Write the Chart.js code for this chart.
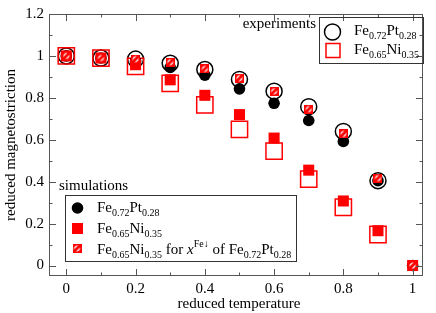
<!DOCTYPE html>
<html>
<head>
<meta charset="utf-8">
<script src="https://cdn.jsdelivr.net/npm/chart.js@4.4.0/dist/chart.umd.min.js"></script>
<style>
  body { margin: 0; background: #fff; }
  canvas { display: block; }
</style>
</head>
<body>
<canvas id="magChart" width="436" height="313"></canvas>
<script>
// datos
const temps = [0, 0.1, 0.2, 0.3, 0.4, 0.5, 0.6, 0.7, 0.8, 0.9, 1.0];
const expFePt = [1.0, 0.99, 0.985, 0.965, 0.935, 0.888, 0.832, 0.758, 0.64, 0.405];
const expFeNi = [1.0, 0.99, 0.95, 0.869, 0.766, 0.65, 0.546, 0.412, 0.278, 0.148];
const simFePt = [1.0, 0.99, 0.975, 0.945, 0.908, 0.843, 0.774, 0.692, 0.592, 0.405, 0];
const simFeNi = [1.0, 0.99, 0.958, 0.886, 0.812, 0.72, 0.608, 0.455, 0.308, 0.166, 0];
const simFeNiX = [1.0, 0.99, 0.985, 0.97, 0.938, 0.894, 0.831, 0.746, 0.628, 0.417, 0];

const xTickVals = [0, 0.2, 0.4, 0.6, 0.8, 1.0];
const xTickLabels = ['0', '0.2', '0.4', '0.6', '0.8', '1'];
const xMinorVals = [0.1, 0.3, 0.5, 0.7, 0.9];
const yTickVals = [0, 0.2, 0.4, 0.6, 0.8, 1.0, 1.2];
const yTickLabels = ['0', '0.2', '0.4', '0.6', '0.8', '1', '1.2'];
const yMinorVals = [0.1, 0.3, 0.5, 0.7, 0.9, 1.1];

const FONT = "'Liberation Serif', 'DejaVu Serif', serif";
const RED = '#ff0000';
const FRAME = '#555';

function toPoints(vals) {
  return vals.map((v, i) => ({ x: temps[i], y: v }));
}

// marcador rayado (cuadrado rojo con lineas blancas)
const hatch = document.createElement('canvas');
hatch.width = 9;
hatch.height = 9;
(function () {
  const c = hatch.getContext('2d');
  c.fillStyle = RED;
  c.fillRect(0, 0, 9, 9);
  c.save();
  c.beginPath();
  c.rect(1.5, 1.5, 6, 6);
  c.clip();
  c.strokeStyle = '#fff';
  c.lineWidth = 1.3;
  c.beginPath();
  c.moveTo(0, 6); c.lineTo(6, 0);
  c.moveTo(3, 9); c.lineTo(9, 3);
  c.stroke();
  c.restore();
})();

// texto con subindices / superindices
function drawChem(ctx, x, y, parts, size) {
  size = size || 15;
  ctx.textAlign = 'left';
  ctx.textBaseline = 'alphabetic';
  parts.forEach(p => {
    const [txt, kind] = p;
    if (kind === 'sub') {
      ctx.font = `10px ${FONT}`;
      ctx.fillText(txt, x, y + 4);
    } else if (kind === 'sup') {
      ctx.font = `10px ${FONT}`;
      ctx.fillText(txt, x, y - 7);
    } else if (kind === 'it') {
      ctx.font = `italic ${size}px ${FONT}`;
      ctx.fillText(txt, x, y);
    } else {
      ctx.font = `${size}px ${FONT}`;
      ctx.fillText(txt, x, y);
    }
    x += ctx.measureText(txt).width;
  });
}

const fePt = [['Fe'], ['0.72', 'sub'], ['Pt'], ['0.28', 'sub']];
const feNi = [['Fe'], ['0.65', 'sub'], ['Ni'], ['0.35', 'sub']];

const framePlugin = {
  id: 'framePlugin',
  afterDatasetsDraw(chart) {
    const ctx = chart.ctx;
    const { left, right, top, bottom } = chart.chartArea;
    const xs = chart.scales.x, ys = chart.scales.y;
    ctx.save();
    ctx.strokeStyle = FRAME;
    ctx.lineWidth = 1;
    ctx.strokeRect(left + 0.5, top + 0.5, right - left - 1, bottom - top - 1);
    ctx.beginPath();
    const tick = (vals, len) => {
      vals.forEach(v => {
        const px = Math.round(xs.getPixelForValue(v)) + 0.5;
        ctx.moveTo(px, bottom); ctx.lineTo(px, bottom - len);
        ctx.moveTo(px, top); ctx.lineTo(px, top + len);
      });
    };
    const tickY = (vals, len) => {
      vals.forEach(v => {
        const py = Math.round(ys.getPixelForValue(v)) + 0.5;
        ctx.moveTo(left, py); ctx.lineTo(left + len, py);
        ctx.moveTo(right, py); ctx.lineTo(right - len, py);
      });
    };
    tick(xTickVals, 7); tick(xMinorVals, 3.5);
    tickY(yTickVals, 7); tickY(yMinorVals, 3.5);
    ctx.stroke();

    // titulos de ejes
    ctx.fillStyle = '#000';
    ctx.font = `15px ${FONT}`;
    ctx.textAlign = 'center';
    ctx.textBaseline = 'alphabetic';
    ctx.fillText('reduced temperature', (left + right) / 2 + 3, 307.5);
    ctx.save();
    ctx.translate(15, (top + bottom) / 2);
    ctx.rotate(-Math.PI / 2);
    ctx.fillText('reduced magnetostriction', 0, 0);
    ctx.restore();

    // leyenda de experimentos
    ctx.strokeStyle = '#333';
    ctx.strokeRect(319.5, 17.5, 104, 46);
    ctx.font = `15px ${FONT}`;
    ctx.textAlign = 'right';
    ctx.fillText('experiments', 316, 28);
    ctx.lineWidth = 1.5;
    ctx.strokeStyle = '#000';
    ctx.beginPath();
    ctx.arc(332.5, 32, 8, 0, Math.PI * 2);
    ctx.stroke();
    ctx.strokeStyle = RED;
    ctx.strokeRect(326, 43.5, 14, 14);
    drawChem(ctx, 354, 34.5, fePt);
    drawChem(ctx, 354, 54, feNi);

    // leyenda de simulaciones
    ctx.lineWidth = 1;
    ctx.strokeStyle = '#333';
    ctx.strokeRect(65.5, 195.5, 231, 66);
    ctx.font = `15px ${FONT}`;
    ctx.textAlign = 'left';
    ctx.fillText('simulations', 59, 190);
    ctx.fillStyle = '#000';
    ctx.beginPath();
    ctx.arc(77.5, 208, 5.8, 0, Math.PI * 2);
    ctx.fill();
    ctx.fillStyle = RED;
    ctx.fillRect(72, 223, 11, 11);
    ctx.drawImage(hatch, 72.5, 244);
    ctx.fillStyle = '#000';
    drawChem(ctx, 97, 212, fePt);
    drawChem(ctx, 97, 233, feNi);
    drawChem(ctx, 97, 253.5, feNi.concat([[' for '], ['x', 'it'], ['Fe\u2193', 'sup'], [' of '], ...fePt]));
    ctx.restore();
  }
};

const ctx = document.getElementById('magChart').getContext('2d');
const magChart = new Chart(ctx, {
  type: 'scatter',
  data: {
    datasets: [
      {
        label: 'Fe0.65Ni0.35 for xFe of Fe0.72Pt0.28',
        data: toPoints(simFeNiX),
        pointStyle: hatch,
        order: 0
      },
      {
        label: 'sim Fe0.65Ni0.35',
        data: toPoints(simFeNi),
        pointStyle: 'rect',
        pointRadius: 7.8,
        backgroundColor: RED,
        borderColor: RED,
        borderWidth: 0,
        order: 1
      },
      {
        label: 'sim Fe0.72Pt0.28',
        data: toPoints(simFePt),
        pointStyle: 'circle',
        pointRadius: 5.8,
        backgroundColor: '#000',
        borderColor: '#000',
        borderWidth: 0,
        order: 2
      },
      {
        label: 'exp Fe0.65Ni0.35',
        data: toPoints(expFeNi),
        pointStyle: 'rect',
        pointRadius: 11.5,
        backgroundColor: 'rgba(0,0,0,0)',
        borderColor: RED,
        borderWidth: 1.5,
        order: 3
      },
      {
        label: 'exp Fe0.72Pt0.28',
        data: toPoints(expFePt),
        pointStyle: 'circle',
        pointRadius: 8,
        backgroundColor: 'rgba(0,0,0,0)',
        borderColor: '#000',
        borderWidth: 1.5,
        order: 4
      }
    ]
  },
  options: {
    responsive: false,
    animation: false,
    layout: { padding: { top: 6, right: 7, left: 0, bottom: 0 } },
    plugins: {
      legend: { display: false },
      tooltip: { enabled: false }
    },
    scales: {
      x: {
        type: 'linear',
        min: -0.05,
        max: 1.03,
        grid: { display: false, drawTicks: false },
        border: { display: false },
        ticks: {
          color: '#000',
          font: { family: FONT, size: 15 },
          padding: 4,
          maxRotation: 0,
          callback: (v, i) => xTickLabels[i]
        },
        afterBuildTicks: s => { s.ticks = xTickVals.map(v => ({ value: v })); },
        afterFit: s => { s.height = 37; }
      },
      y: {
        type: 'linear',
        min: -0.05,
        max: 1.2,
        grid: { display: false, drawTicks: false },
        border: { display: false },
        ticks: {
          color: '#000',
          font: { family: FONT, size: 15 },
          padding: 5,
          callback: (v, i) => yTickLabels[i]
        },
        afterBuildTicks: s => { s.ticks = yTickVals.map(v => ({ value: v })); },
        afterFit: s => { s.width = 49; }
      }
    }
  },
  plugins: [framePlugin]
});
</script>
</body>
</html>
